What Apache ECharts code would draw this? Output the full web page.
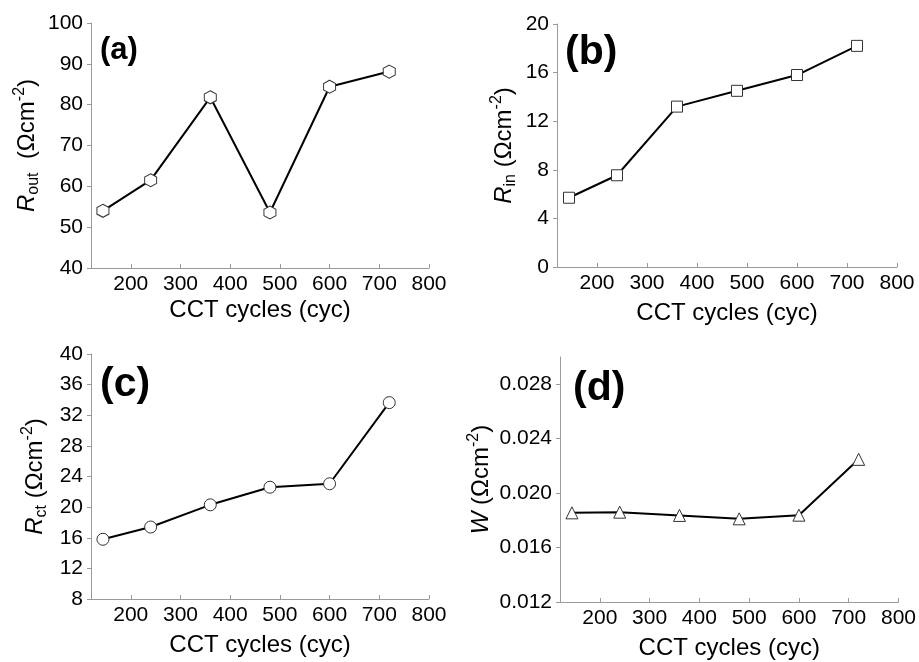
<!DOCTYPE html>
<html>
<head>
<meta charset="utf-8">
<script src="https://cdn.jsdelivr.net/npm/echarts@6/dist/echarts.min.js"></script>
<style>html,body{margin:0;padding:0;background:#fff;}#c{width:919px;height:662px;}</style>
</head>
<body>
<div id="c"></div>
<script>
const cycles = [144, 240, 360, 480, 600, 720];
const rOut = [54.0, 61.5, 81.8, 53.6, 84.4, 88.1];
const rIn = [5.7, 7.55, 13.2, 14.5, 15.8, 18.2];
const rCt = [15.8, 17.4, 20.3, 22.6, 23.05, 33.65];
const wVals = [0.01855, 0.0186, 0.01836, 0.01811, 0.01838, 0.02248];
const xTicks = [200, 300, 400, 500, 600, 700, 800];
const yTicksA = [40, 50, 60, 70, 80, 90, 100];
const yTicksB = [0, 4, 8, 12, 16, 20];
const yTicksC = [8, 12, 16, 20, 24, 28, 32, 36, 40];
const yTicksD = [0.012, 0.016, 0.020, 0.024, 0.028];
const panelLabels = ['(a)', '(b)', '(c)', '(d)'];
const xTitle = 'CCT cycles (cyc)';

const FONT = "'Liberation Sans', Arial, sans-serif";
const axisGray = '#9a9a9a';

const grids = [
  {left: 91, top: 23, width: 338, height: 245},
  {left: 557, top: 24, width: 340, height: 243},
  {left: 91, top: 354, width: 338, height: 245},
  {left: 560, top: 357, width: 339, height: 245}
];

const richY = {
  i: {fontFamily: FONT, fontSize: 24, fontStyle: 'italic', color: '#000', lineHeight: 30, verticalAlign: 'middle'},
  n: {fontFamily: FONT, fontSize: 24, color: '#000', lineHeight: 30, verticalAlign: 'middle'},
  sub: {fontFamily: FONT, fontSize: 16, color: '#000', lineHeight: 16, verticalAlign: 'bottom'},
  sup: {fontFamily: FONT, fontSize: 16, color: '#000', lineHeight: 16, verticalAlign: 'top'}
};

const yNames = [
  '{i|R}{sub|out}{n|  (Ωcm}{sup|-2}{n|)}',
  '{i|R}{sub|in}{n| (Ωcm}{sup|-2}{n|)}',
  '{i|R}{sub|ct}{n| (Ωcm}{sup|-2}{n|)}',
  '{i|W}{n| (Ωcm}{sup|-2}{n|)}'
];
const yNameGaps = [49, 38, 41, 64];
const yRanges = [[40, 100], [0, 20], [8, 40], [0.012, 0.030]];
const yTickLists = [yTicksA, yTicksB, yTicksC, yTicksD];
const seriesData = [rOut, rIn, rCt, wVals];
const symbols = [
  'path://M0,-1 L0.866,-0.5 L0.866,0.5 L0,1 L-0.866,0.5 L-0.866,-0.5 Z',
  'rect', 'circle', 'triangle'
];
const symbolSizes = [[12, 13], 11, 12, 12];
const xNameGaps = [30, 34, 34, 34];

const xAxes = grids.map((g, k) => ({
  gridIndex: k, type: 'value', min: 120, max: 800,
  name: xTitle, nameLocation: 'middle', nameGap: xNameGaps[k],
  nameTextStyle: {fontFamily: FONT, fontSize: 24, color: '#000'},
  axisLine: {show: true, lineStyle: {color: axisGray, width: 1}},
  axisTick: {show: true, inside: true, length: 4, customValues: xTicks, lineStyle: {color: axisGray}},
  axisLabel: {show: true, customValues: xTicks, margin: 6, fontFamily: FONT, fontSize: 21, color: '#000'},
  splitLine: {show: false}
}));

const yAxes = grids.map((g, k) => ({
  gridIndex: k, type: 'value', min: yRanges[k][0], max: yRanges[k][1],
  name: yNames[k], nameLocation: 'middle', nameGap: yNameGaps[k],
  nameTextStyle: {rich: richY},
  axisLine: {show: true, lineStyle: {color: axisGray, width: 1}},
  axisTick: {show: true, inside: false, length: 4, customValues: yTickLists[k], lineStyle: {color: axisGray}},
  axisLabel: {show: true, customValues: yTickLists[k], margin: 8, fontFamily: FONT, fontSize: 21, color: '#000',
    formatter: k === 3 ? (v => Number(v).toFixed(3)) : (v => String(v))},
  splitLine: {show: false}
}));

const series = seriesData.map((d, k) => ({
  type: 'line', xAxisIndex: k, yAxisIndex: k,
  data: cycles.map((c, j) => [c, d[j]]),
  symbol: symbols[k], symbolSize: symbolSizes[k], showSymbol: true,
  lineStyle: {color: '#000', width: 2},
  itemStyle: {color: '#fff', borderColor: '#333', borderWidth: 1},
  animation: false, z: 3
}));

const labelPos = [
  {left: 100, cy: 49, size: 31},
  {left: 565, cy: 51, size: 41},
  {left: 100, cy: 383, size: 41},
  {left: 573, cy: 387, size: 41}
];
const graphic = labelPos.map((p, k) => ({
  type: 'text', left: p.left, top: p.cy - p.size * 0.45,
  style: {text: panelLabels[k], font: 'bold ' + p.size + 'px ' + FONT, fill: '#000'}
}));

const chart = echarts.init(document.getElementById('c'), null, {renderer: 'canvas'});
chart.setOption({
  animation: false,
  backgroundColor: '#fff',
  grid: grids.map(g => Object.assign({containLabel: false}, g)),
  xAxis: xAxes, yAxis: yAxes, series: series, graphic: graphic
});
</script>
</body>
</html>
